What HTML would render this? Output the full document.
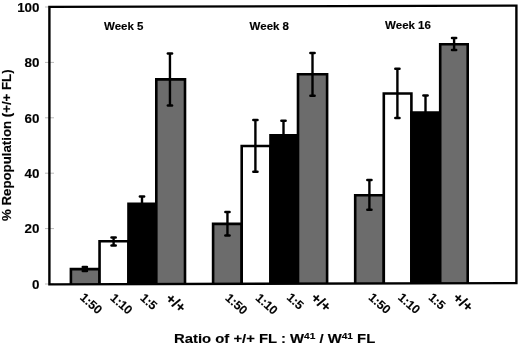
<!DOCTYPE html>
<html><head><meta charset="utf-8"><style>
html,body{margin:0;padding:0;background:#fff;width:520px;height:345px;overflow:hidden}
svg{display:block;filter:blur(0.3px)}
text{font-family:"Liberation Sans", sans-serif;font-weight:bold;fill:#000;stroke:#000;stroke-width:0.15px}
</style></head><body>
<svg width="520" height="345" viewBox="0 0 520 345">
<line x1="45" y1="284.00" x2="54" y2="284.00" stroke="#bbb" stroke-width="1"/>
<text x="39.5" y="288.75" text-anchor="end" font-size="13.4">0</text>
<line x1="45" y1="228.60" x2="54" y2="228.60" stroke="#bbb" stroke-width="1"/>
<text x="39.5" y="233.35" text-anchor="end" font-size="13.4">20</text>
<line x1="45" y1="173.20" x2="54" y2="173.20" stroke="#bbb" stroke-width="1"/>
<text x="39.5" y="177.95" text-anchor="end" font-size="13.4">40</text>
<line x1="45" y1="117.80" x2="54" y2="117.80" stroke="#bbb" stroke-width="1"/>
<text x="39.5" y="122.55" text-anchor="end" font-size="13.4">60</text>
<line x1="45" y1="62.40" x2="54" y2="62.40" stroke="#bbb" stroke-width="1"/>
<text x="39.5" y="67.15" text-anchor="end" font-size="13.4">80</text>
<line x1="45" y1="7.00" x2="54" y2="7.00" stroke="#bbb" stroke-width="1"/>
<text x="39.5" y="11.75" text-anchor="end" font-size="13.4">100</text>
<path d="M70.9,284.32 L70.9,269.1 L99.55,269.1 L99.55,284.24 Z" fill="#6c6c6c"/>
<path d="M70.9,284.32 L70.9,269.1 L99.55,269.1 L99.55,284.24" fill="none" stroke="#000" stroke-width="2.6"/>
<path d="M99.55,284.24 L99.55,241.3 L128.5,241.3 L128.5,284.16 Z" fill="#fff"/>
<path d="M99.55,284.24 L99.55,241.3 L128.5,241.3 L128.5,284.16" fill="none" stroke="#000" stroke-width="2.6"/>
<path d="M128.5,284.16 L128.5,203.8 L156.3,203.8 L156.3,284.09 Z" fill="#000"/>
<path d="M128.5,284.16 L128.5,203.8 L156.3,203.8 L156.3,284.09" fill="none" stroke="#000" stroke-width="2.6"/>
<path d="M156.3,284.09 L156.3,79.4 L185.0,79.4 L185.0,284.01 Z" fill="#6c6c6c"/>
<path d="M156.3,284.09 L156.3,79.4 L185.0,79.4 L185.0,284.01" fill="none" stroke="#000" stroke-width="2.6"/>
<line x1="84.85" y1="266.9" x2="84.85" y2="270.9" stroke="#000" stroke-width="2.4"/>
<line x1="82.75" y1="266.9" x2="86.95" y2="266.9" stroke="#000" stroke-width="2.5" stroke-linecap="round"/>
<line x1="82.75" y1="270.9" x2="86.95" y2="270.9" stroke="#000" stroke-width="2.5" stroke-linecap="round"/>
<line x1="113.6" y1="237.5" x2="113.6" y2="245.5" stroke="#000" stroke-width="2.4"/>
<line x1="111.50" y1="237.5" x2="115.70" y2="237.5" stroke="#000" stroke-width="2.5" stroke-linecap="round"/>
<line x1="111.50" y1="245.5" x2="115.70" y2="245.5" stroke="#000" stroke-width="2.5" stroke-linecap="round"/>
<line x1="142.0" y1="196.4" x2="142.0" y2="210" stroke="#000" stroke-width="2.4"/>
<line x1="139.90" y1="196.4" x2="144.10" y2="196.4" stroke="#000" stroke-width="2.5" stroke-linecap="round"/>
<line x1="139.90" y1="210" x2="144.10" y2="210" stroke="#000" stroke-width="2.5" stroke-linecap="round"/>
<line x1="169.95" y1="53.6" x2="169.95" y2="105.4" stroke="#000" stroke-width="2.4"/>
<line x1="167.85" y1="53.6" x2="172.05" y2="53.6" stroke="#000" stroke-width="2.5" stroke-linecap="round"/>
<line x1="167.85" y1="105.4" x2="172.05" y2="105.4" stroke="#000" stroke-width="2.5" stroke-linecap="round"/>
<path d="M213.1,283.93 L213.1,223.9 L241.7,223.9 L241.7,283.85 Z" fill="#6c6c6c"/>
<path d="M213.1,283.93 L213.1,223.9 L241.7,223.9 L241.7,283.85" fill="none" stroke="#000" stroke-width="2.6"/>
<path d="M241.7,283.85 L241.7,146.0 L270.5,146.0 L270.5,283.77 Z" fill="#fff"/>
<path d="M241.7,283.85 L241.7,146.0 L270.5,146.0 L270.5,283.77" fill="none" stroke="#000" stroke-width="2.6"/>
<path d="M270.5,283.77 L270.5,135.4 L298.0,135.4 L298.0,283.70 Z" fill="#000"/>
<path d="M270.5,283.77 L270.5,135.4 L298.0,135.4 L298.0,283.70" fill="none" stroke="#000" stroke-width="2.6"/>
<path d="M298.0,283.70 L298.0,74.2 L327.1,74.2 L327.1,283.62 Z" fill="#6c6c6c"/>
<path d="M298.0,283.70 L298.0,74.2 L327.1,74.2 L327.1,283.62" fill="none" stroke="#000" stroke-width="2.6"/>
<line x1="227.45" y1="212.1" x2="227.45" y2="235.4" stroke="#000" stroke-width="2.4"/>
<line x1="225.35" y1="212.1" x2="229.55" y2="212.1" stroke="#000" stroke-width="2.5" stroke-linecap="round"/>
<line x1="225.35" y1="235.4" x2="229.55" y2="235.4" stroke="#000" stroke-width="2.5" stroke-linecap="round"/>
<line x1="255.4" y1="120.1" x2="255.4" y2="171.8" stroke="#000" stroke-width="2.4"/>
<line x1="253.30" y1="120.1" x2="257.50" y2="120.1" stroke="#000" stroke-width="2.5" stroke-linecap="round"/>
<line x1="253.30" y1="171.8" x2="257.50" y2="171.8" stroke="#000" stroke-width="2.5" stroke-linecap="round"/>
<line x1="283.5" y1="120.7" x2="283.5" y2="150" stroke="#000" stroke-width="2.4"/>
<line x1="281.40" y1="120.7" x2="285.60" y2="120.7" stroke="#000" stroke-width="2.5" stroke-linecap="round"/>
<line x1="281.40" y1="150" x2="285.60" y2="150" stroke="#000" stroke-width="2.5" stroke-linecap="round"/>
<line x1="312.5" y1="52.9" x2="312.5" y2="95.8" stroke="#000" stroke-width="2.4"/>
<line x1="310.40" y1="52.9" x2="314.60" y2="52.9" stroke="#000" stroke-width="2.5" stroke-linecap="round"/>
<line x1="310.40" y1="95.8" x2="314.60" y2="95.8" stroke="#000" stroke-width="2.5" stroke-linecap="round"/>
<path d="M355.2,283.54 L355.2,195.2 L383.8,195.2 L383.8,283.46 Z" fill="#6c6c6c"/>
<path d="M355.2,283.54 L355.2,195.2 L383.8,195.2 L383.8,283.46" fill="none" stroke="#000" stroke-width="2.6"/>
<path d="M383.8,283.46 L383.8,93.5 L411.4,93.5 L411.4,283.38 Z" fill="#fff"/>
<path d="M383.8,283.46 L383.8,93.5 L411.4,93.5 L411.4,283.38" fill="none" stroke="#000" stroke-width="2.6"/>
<path d="M411.4,283.38 L411.4,112.6 L440.2,112.6 L440.2,283.30 Z" fill="#000"/>
<path d="M411.4,283.38 L411.4,112.6 L440.2,112.6 L440.2,283.30" fill="none" stroke="#000" stroke-width="2.6"/>
<path d="M440.2,283.30 L440.2,44.2 L467.7,44.2 L467.7,283.23 Z" fill="#6c6c6c"/>
<path d="M440.2,283.30 L440.2,44.2 L467.7,44.2 L467.7,283.23" fill="none" stroke="#000" stroke-width="2.6"/>
<line x1="369.4" y1="180.0" x2="369.4" y2="209.7" stroke="#000" stroke-width="2.4"/>
<line x1="367.30" y1="180.0" x2="371.50" y2="180.0" stroke="#000" stroke-width="2.5" stroke-linecap="round"/>
<line x1="367.30" y1="209.7" x2="371.50" y2="209.7" stroke="#000" stroke-width="2.5" stroke-linecap="round"/>
<line x1="397.4" y1="68.8" x2="397.4" y2="117.9" stroke="#000" stroke-width="2.4"/>
<line x1="395.30" y1="68.8" x2="399.50" y2="68.8" stroke="#000" stroke-width="2.5" stroke-linecap="round"/>
<line x1="395.30" y1="117.9" x2="399.50" y2="117.9" stroke="#000" stroke-width="2.5" stroke-linecap="round"/>
<line x1="425.5" y1="95.5" x2="425.5" y2="130" stroke="#000" stroke-width="2.4"/>
<line x1="423.40" y1="95.5" x2="427.60" y2="95.5" stroke="#000" stroke-width="2.5" stroke-linecap="round"/>
<line x1="423.40" y1="130" x2="427.60" y2="130" stroke="#000" stroke-width="2.5" stroke-linecap="round"/>
<line x1="454.1" y1="38.0" x2="454.1" y2="50.0" stroke="#000" stroke-width="2.4"/>
<line x1="452.00" y1="38.0" x2="456.20" y2="38.0" stroke="#000" stroke-width="2.5" stroke-linecap="round"/>
<line x1="452.00" y1="50.0" x2="456.20" y2="50.0" stroke="#000" stroke-width="2.5" stroke-linecap="round"/>
<path d="M49.4,6.91 L516.4,5.63 L516.4,283.09 L49.4,284.38 Z" fill="none" stroke="#000" stroke-width="2.4"/>
<text x="104" y="29.9" font-size="11.5">Week 5</text>
<text x="249.6" y="29.7" font-size="11.5">Week 8</text>
<text x="385.1" y="29.1" font-size="11.5">Week 16</text>
<text transform="translate(79.25,298.5) rotate(41.5)" font-size="12.2" letter-spacing="0" stroke="#000" stroke-width="0.2">1:50</text>
<text transform="translate(109.55,298.90000000000003) rotate(41.5)" font-size="12.2" letter-spacing="0" stroke="#000" stroke-width="0.2">1:10</text>
<text transform="translate(139.45000000000002,298.90000000000003) rotate(41.5)" font-size="12.2" letter-spacing="0" stroke="#000" stroke-width="0.2">1:5</text>
<text transform="translate(164.75,300) rotate(40)" font-size="14.5" stroke="#000" stroke-width="0.25">+/+</text>
<text transform="translate(224.55,299.1) rotate(41.5)" font-size="12.2" letter-spacing="0" stroke="#000" stroke-width="0.2">1:50</text>
<text transform="translate(254.8,299.1) rotate(41.5)" font-size="12.2" letter-spacing="0" stroke="#000" stroke-width="0.2">1:10</text>
<text transform="translate(285.95,298.45) rotate(41.5)" font-size="12.2" letter-spacing="0" stroke="#000" stroke-width="0.2">1:5</text>
<text transform="translate(310.05,299.2) rotate(40)" font-size="14.5" stroke="#000" stroke-width="0.25">+/+</text>
<text transform="translate(367.7,298.45) rotate(41.5)" font-size="12.2" letter-spacing="0" stroke="#000" stroke-width="0.2">1:50</text>
<text transform="translate(397.25,298.45) rotate(41.5)" font-size="12.2" letter-spacing="0" stroke="#000" stroke-width="0.2">1:10</text>
<text transform="translate(427.75,298.45) rotate(41.5)" font-size="12.2" letter-spacing="0" stroke="#000" stroke-width="0.2">1:5</text>
<text transform="translate(452.05,299.2) rotate(40)" font-size="14.5" stroke="#000" stroke-width="0.25">+/+</text>
<text transform="translate(174,342.9) scale(1.1,1)" font-size="13.5">Ratio of +/+ FL : W<tspan font-size="9.2" dy="-4.3">41</tspan><tspan dy="4.3"> / W</tspan><tspan font-size="9.2" dy="-4.3">41</tspan><tspan dy="4.3"> FL</tspan></text>
<text transform="translate(11.2,221) rotate(-90) scale(1.06,1)" font-size="12.5">% Repopulation (+/+ FL)</text>
</svg>
</body></html>
